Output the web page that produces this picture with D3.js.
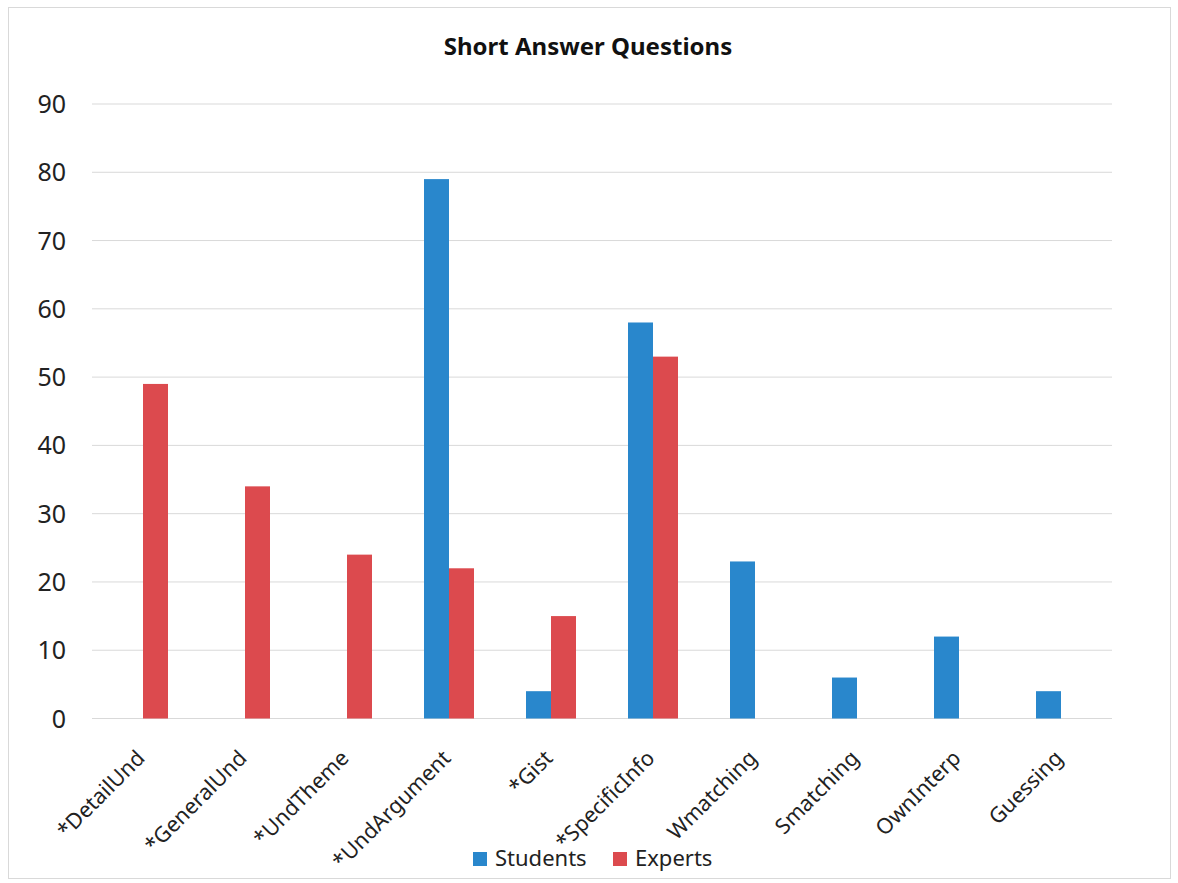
<!DOCTYPE html>
<html>
<head>
<meta charset="utf-8">
<script src="https://cdn.jsdelivr.net/npm/d3@7"></script>
<style>
  html, body { margin: 0; padding: 0; background: #fff; }
  svg { display: block; font-family: "Noto Sans", "Open Sans", sans-serif; }
</style>
</head>
<body>
<div id="chart"></div>
<script>
// ─── Data ─────────────────────────────────────────────────────
const categories = ['*DetailUnd', '*GeneralUnd', '*UndTheme', '*UndArgument', '*Gist',
                    '*SpecificInfo', 'Wmatching', 'Smatching', 'OwnInterp', 'Guessing'];
const students = [0, 0, 0, 79, 4, 58, 23, 6, 12, 4];
const experts  = [49, 34, 24, 22, 15, 53, 0, 0, 0, 0];
const seriesNames = ['Students', 'Experts'];
const yTicks = [0, 10, 20, 30, 40, 50, 60, 70, 80, 90];

const W = 1178, H = 883;
const BLUE = '#2987cc';
const RED = '#dc4a4e';
const plot = { left: 92, right: 1112, top: 104, bottom: 718.5 };

const svg = d3.select('#chart').append('svg')
    .attr('width', W)
    .attr('height', H);

// chart frame
svg.append('rect')
    .attr('x', 8.5).attr('y', 7.5)
    .attr('width', 1162).attr('height', 871)
    .attr('fill', '#fff')
    .attr('stroke', '#d9d9d9');

const x = d3.scaleBand()
    .domain(categories)
    .range([plot.left, plot.right]);

const y = d3.scaleLinear()
    .domain([0, 90])
    .range([plot.bottom, plot.top]);

const barW = 25;

// gridlines
svg.append('g')
    .selectAll('line')
    .data(yTicks)
    .join('line')
    .attr('x1', plot.left).attr('x2', plot.right)
    .attr('y1', d => y(d)).attr('y2', d => y(d))
    .attr('stroke', '#d9d9d9')
    .attr('stroke-width', 1);

// y tick labels
svg.append('g')
    .selectAll('text')
    .data(yTicks)
    .join('text')
    .attr('x', 66)
    .attr('y', d => y(d))
    .attr('dy', '0.36em')
    .attr('text-anchor', 'end')
    .attr('font-size', 25)
    .attr('fill', '#222')
    .text(d => d);

// bars
const rows = categories.map((c, i) => ({ cat: c, s: students[i], e: experts[i] }));
const center = c => x(c) + x.bandwidth() / 2;

svg.append('g')
    .selectAll('rect')
    .data(rows.filter(d => d.s > 0))
    .join('rect')
    .attr('x', d => center(d.cat) - barW)
    .attr('y', d => y(d.s))
    .attr('width', barW)
    .attr('height', d => y(0) - y(d.s))
    .attr('fill', BLUE);

svg.append('g')
    .selectAll('rect')
    .data(rows.filter(d => d.e > 0))
    .join('rect')
    .attr('x', d => center(d.cat))
    .attr('y', d => y(d.e))
    .attr('width', barW)
    .attr('height', d => y(0) - y(d.e))
    .attr('fill', RED);

// rotated category labels
svg.append('g')
    .selectAll('text')
    .data(categories)
    .join('text')
    .attr('transform', d => `translate(${center(d) + 3},${plot.bottom + 41}) rotate(-45)`)
    .attr('text-anchor', 'end')
    .attr('font-size', 21.5)
    .attr('fill', '#222')
    .text(d => d);

// title
svg.append('text')
    .attr('x', 588).attr('y', 55)
    .attr('text-anchor', 'middle')
    .attr('font-size', 24)
    .attr('font-weight', 'bold')
    .attr('fill', '#111')
    .text('Short Answer Questions');

// legend
const legendItems = [
    { name: seriesNames[0], color: BLUE, x: 473 },
    { name: seriesNames[1], color: RED, x: 613 }
];
const lg = svg.append('g')
    .selectAll('g')
    .data(legendItems)
    .join('g')
    .attr('transform', d => `translate(${d.x},852)`);
lg.append('rect')
    .attr('width', 14).attr('height', 14)
    .attr('fill', d => d.color);
lg.append('text')
    .attr('x', 22).attr('y', 14)
    .attr('font-size', 22)
    .attr('fill', '#222')
    .text(d => d.name);
</script>
</body>
</html>
